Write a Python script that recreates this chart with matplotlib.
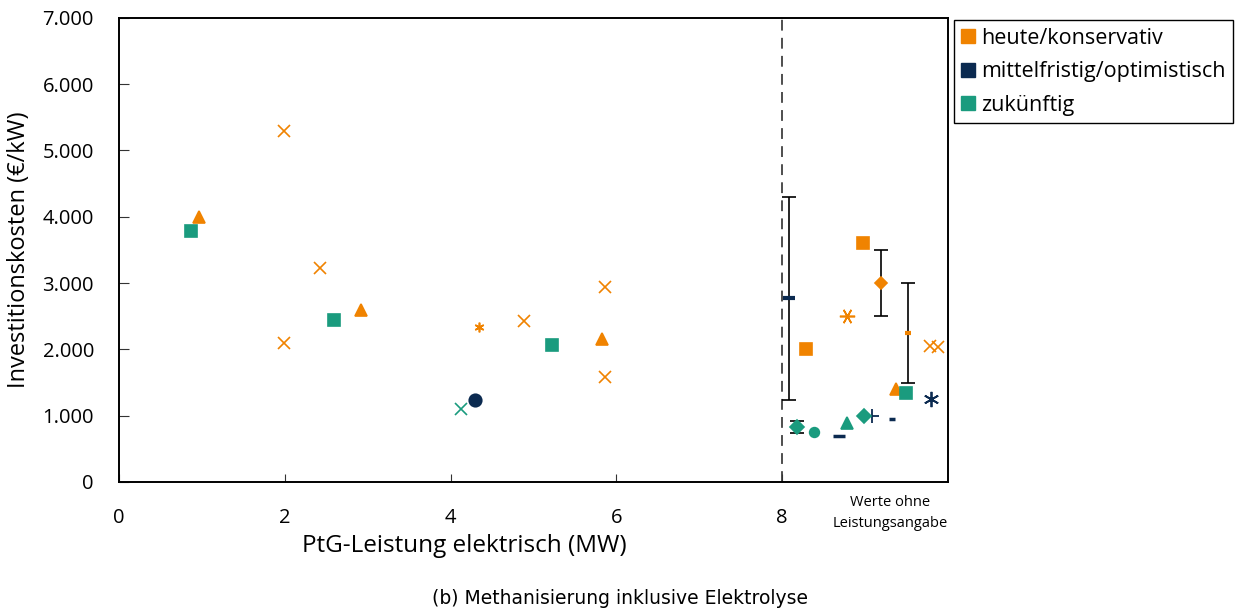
import matplotlib
matplotlib.use('Agg')
import matplotlib.pyplot as plt
from matplotlib.lines import Line2D
from matplotlib.ticker import FuncFormatter

plt.rcParams['font.family'] = ['Open Sans', 'DejaVu Sans']

ORANGE = '#f08300'
NAVY = '#0b2a50'
TEAL = '#1a9b7e'

# heute/konservativ
or_x_x = [1.99, 1.99, 2.43, 4.89, 5.86, 5.86, 9.78, 9.88]
or_x_y = [5300, 2100, 3230, 2430, 2940, 1580, 2050, 2030]
or_tri_x = [0.97, 2.92, 5.83, 9.37]
or_tri_y = [4000, 2600, 2150, 1400]
or_sq_x = [8.29, 8.98]
or_sq_y = [2000, 3600]
or_ast_x = [4.34, 8.78]
or_ast_y = [2340, 2500]
or_dia_x = [9.19]
or_dia_y = [3000]
or_dash_x = [9.52]
or_dash_y = [2250]

# mittelfristig/optimistisch
nv_circ_x = [4.29]
nv_circ_y = [1240]
nv_dash_x = [8.08, 8.69, 9.33]
nv_dash_y = [2780, 700, 950]
nv_plus_x = [9.08]
nv_plus_y = [1000]
nv_ast_x = [9.80]
nv_ast_y = [1250]

# zukünftig
tl_sq_x = [0.87, 2.60, 5.23, 9.49]
tl_sq_y = [3790, 2440, 2070, 1340]
tl_x_x = [4.13]
tl_x_y = [1100]
tl_dia_x = [8.18, 8.99]
tl_dia_y = [830, 1000]
tl_circ_x = [8.39]
tl_circ_y = [750]
tl_tri_x = [8.78]
tl_tri_y = [890]

# Bandbreiten (min/max)
err_x = [8.08, 9.19, 9.52, 8.18]
err_y = [2780, 3000, 2250, 830]
err_lo = [1240, 2500, 1500, 740]
err_hi = [4300, 3500, 3000, 920]

fig = plt.figure(figsize=(12.39, 6.14), dpi=100)
ax = fig.add_axes([0.096, 0.215, 0.669, 0.756])

ax.errorbar(err_x, err_y,
            yerr=[[y - l for y, l in zip(err_y, err_lo)], [h - y for y, h in zip(err_y, err_hi)]],
            fmt='none', ecolor='black', elinewidth=1.2, capsize=5, capthick=1.2, zorder=2)

def pts(x, y, marker, color, size, mew=1.2, **kw):
    ax.plot(x, y, linestyle='none', marker=marker, color=color, markersize=size,
            markeredgewidth=mew, zorder=3, **kw)

pts(or_x_x, or_x_y, 'x', ORANGE, 8)
pts(or_tri_x, or_tri_y, '^', ORANGE, 9)
pts(or_sq_x, or_sq_y, 's', ORANGE, 8)
pts(or_ast_x[:1], or_ast_y[:1], (6, 2, 0), ORANGE, 7)
pts(or_ast_x[1:], or_ast_y[1:], (6, 2, 90), ORANGE, 11)
pts(or_dia_x, or_dia_y, 'D', ORANGE, 6)
pts(or_dash_x, or_dash_y, '_', ORANGE, 5, mew=3)

pts(nv_circ_x, nv_circ_y, 'o', NAVY, 9)
pts(nv_dash_x[:1], nv_dash_y[:1], '_', NAVY, 9, mew=3)
pts(nv_dash_x[1:2], nv_dash_y[1:2], '_', NAVY, 8, mew=2.5)
pts(nv_dash_x[2:], nv_dash_y[2:], '_', NAVY, 5, mew=2.5)
pts(nv_plus_x, nv_plus_y, '+', NAVY, 10, mew=1.3)
pts(nv_ast_x, nv_ast_y, (6, 2, 0), NAVY, 11, mew=1.3)

pts(tl_sq_x, tl_sq_y, 's', TEAL, 8)
pts(tl_x_x, tl_x_y, 'x', TEAL, 8)
pts(tl_dia_x, tl_dia_y, 'D', TEAL, 7)
pts(tl_circ_x, tl_circ_y, 'o', TEAL, 7)
pts(tl_tri_x, tl_tri_y, '^', TEAL, 9)

ax.axvline(8.0, color='#404040', linestyle=(0, (6, 4)), linewidth=1.3, zorder=1)

ax.set_xlim(0, 10)
ax.set_ylim(0, 7000)
ax.set_xticks([0, 2, 4, 6, 8])
ax.set_yticks(range(0, 7001, 1000))
ax.yaxis.set_major_formatter(FuncFormatter(lambda v, p: f'{int(v):,}'.replace(',', '.')))
ax.tick_params(axis='both', direction='in', labelsize=14.5, colors='#333333', labelcolor='black')
ax.tick_params(axis='x', length=6, pad=19)
ax.tick_params(axis='y', length=7, pad=18)
for s in ax.spines.values():
    s.set_linewidth(1.4)
    s.set_color('black')

ax.set_ylabel('Investitionskosten (€/kW)', fontsize=17, labelpad=8)
ax.set_xlabel('PtG-Leistung elektrisch (MW)', fontsize=17.5, labelpad=4, x=0.417)
ax.text(9.3, -190, 'Werte ohne\nLeistungsangabe', ha='center', va='top', fontsize=10.5,
        linespacing=1.6, transform=ax.transData)

handles = [Line2D([], [], linestyle='none', marker='s', markersize=10, color=c)
           for c in (ORANGE, NAVY, TEAL)]
fig.legend(handles, ['heute/konservativ', 'mittelfristig/optimistisch', 'zukünftig'],
           loc='upper left', bbox_to_anchor=(0.770, 0.967), fontsize=15.5, frameon=True,
           fancybox=False, edgecolor='black', framealpha=1, handlelength=0.6,
           handletextpad=0.3, borderpad=0.35, labelspacing=0.58, borderaxespad=0)

fig.text(0.5, 0.016, '(b) Methanisierung inklusive Elektrolyse', ha='center', fontsize=13.5,
         family=['DejaVu Sans'])

fig.savefig('out.png', dpi=100)
